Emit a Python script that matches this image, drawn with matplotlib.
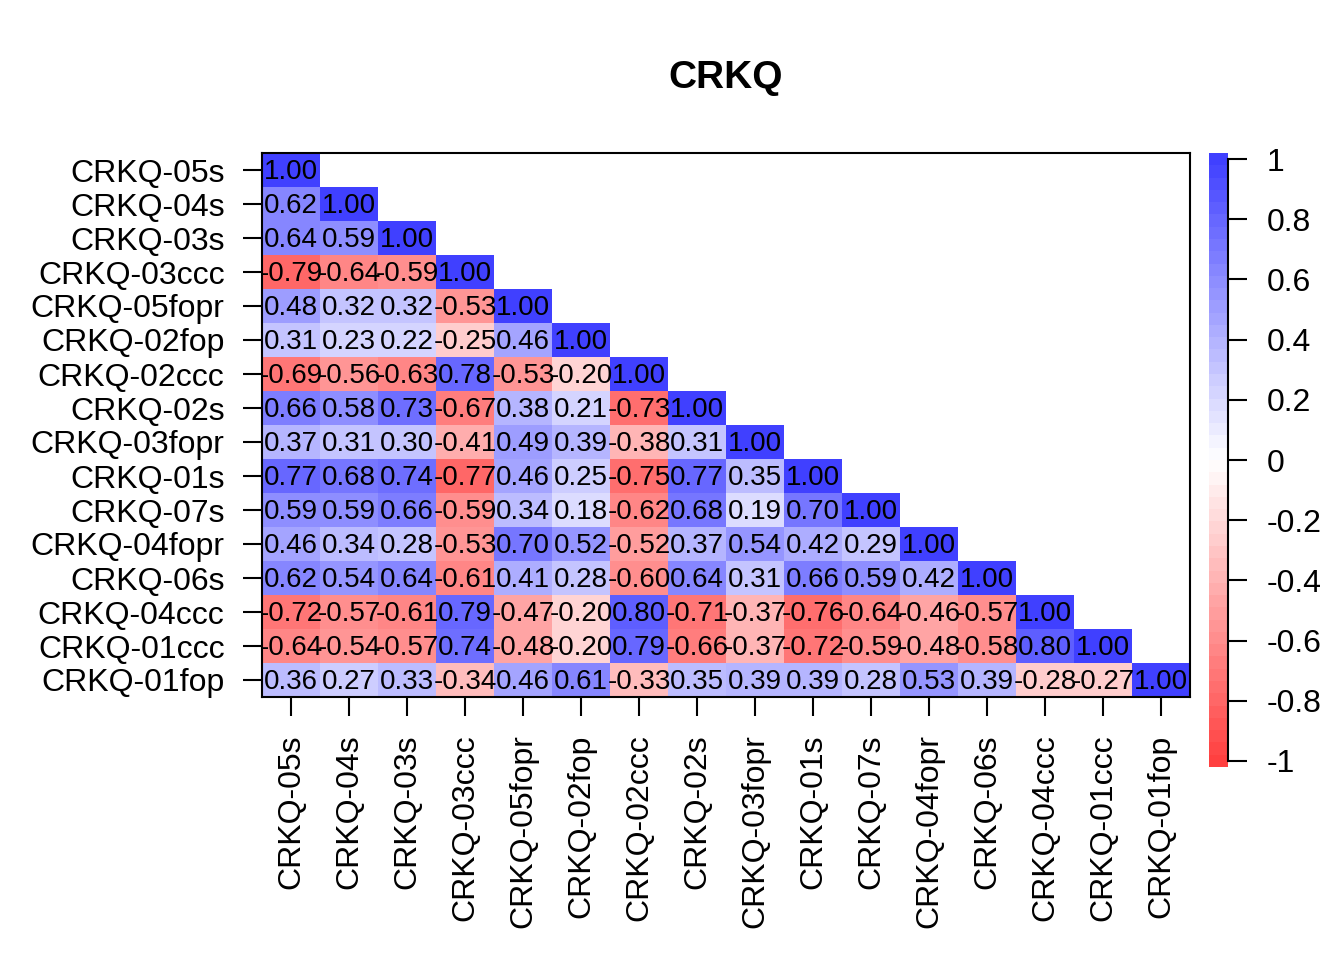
import numpy as np
import matplotlib
matplotlib.use("Agg")
import matplotlib.pyplot as plt
from matplotlib.colors import LinearSegmentedColormap, ListedColormap, BoundaryNorm

plt.rcParams['font.family'] = ['Liberation Sans', 'DejaVu Sans']

title = "CRKQ"
labels = ["CRKQ-05s", "CRKQ-04s", "CRKQ-03s", "CRKQ-03ccc", "CRKQ-05fopr",
          "CRKQ-02fop", "CRKQ-02ccc", "CRKQ-02s", "CRKQ-03fopr", "CRKQ-01s",
          "CRKQ-07s", "CRKQ-04fopr", "CRKQ-06s", "CRKQ-04ccc", "CRKQ-01ccc",
          "CRKQ-01fop"]

# lower triangle, row by row
lower = [
    [1.00],
    [0.62, 1.00],
    [0.64, 0.59, 1.00],
    [-0.79, -0.64, -0.59, 1.00],
    [0.48, 0.32, 0.32, -0.53, 1.00],
    [0.31, 0.23, 0.22, -0.25, 0.46, 1.00],
    [-0.69, -0.56, -0.63, 0.78, -0.53, -0.20, 1.00],
    [0.66, 0.58, 0.73, -0.67, 0.38, 0.21, -0.73, 1.00],
    [0.37, 0.31, 0.30, -0.41, 0.49, 0.39, -0.38, 0.31, 1.00],
    [0.77, 0.68, 0.74, -0.77, 0.46, 0.25, -0.75, 0.77, 0.35, 1.00],
    [0.59, 0.59, 0.66, -0.59, 0.34, 0.18, -0.62, 0.68, 0.19, 0.70, 1.00],
    [0.46, 0.34, 0.28, -0.53, 0.70, 0.52, -0.52, 0.37, 0.54, 0.42, 0.29, 1.00],
    [0.62, 0.54, 0.64, -0.61, 0.41, 0.28, -0.60, 0.64, 0.31, 0.66, 0.59, 0.42, 1.00],
    [-0.72, -0.57, -0.61, 0.79, -0.47, -0.20, 0.80, -0.71, -0.37, -0.76, -0.64, -0.46, -0.57, 1.00],
    [-0.64, -0.54, -0.57, 0.74, -0.48, -0.20, 0.79, -0.66, -0.37, -0.72, -0.59, -0.48, -0.58, 0.80, 1.00],
    [0.36, 0.27, 0.33, -0.34, 0.46, 0.61, -0.33, 0.35, 0.39, 0.39, 0.28, 0.53, 0.39, -0.28, -0.27, 1.00],
]
cbar_ticks = [-1, -0.8, -0.6, -0.4, -0.2, 0, 0.2, 0.4, 0.6, 0.8, 1]

n = len(labels)
M = np.full((n, n), np.nan)
for i, row in enumerate(lower):
    M[i, :len(row)] = row

# red - white - blue ramp, 50 steps, drawn at 75% opacity on white
base = LinearSegmentedColormap.from_list("rwb", [(1, 0.25, 0.25), (1, 1, 1), (0.25, 0.25, 1)])
ncol = 50
cols = base(np.linspace(0, 1, ncol))
cmap = ListedColormap(cols)
norm = BoundaryNorm(np.linspace(-1, 1, ncol + 1), ncol)

W, H = 1344, 960
fig = plt.figure(figsize=(W / 100, H / 100), dpi=100)
ax = fig.add_axes([262 / W, 1 - 697 / H, 928 / W, 544 / H])

ax.pcolormesh(np.arange(n + 1), np.arange(n + 1), np.ma.masked_invalid(M),
              cmap=cmap, norm=norm)
ax.set_xlim(0, n)
ax.set_ylim(n, 0)
for i in range(n):
    for j in range(i + 1):
        ax.text(j + 0.5, i + 0.56, f"{M[i, j]:.2f}", ha="center", va="center",
                fontsize=20)

ax.set_xticks(np.arange(n) + 0.5)
ax.set_yticks(np.arange(n) + 0.5)
ax.set_xticklabels(labels, rotation=90, fontsize=23)
ax.set_yticklabels(labels, fontsize=23)
ax.tick_params(length=14, width=1.5, pad=13)
for s in ax.spines.values():
    s.set_linewidth(1.5)

fig.text(726 / W, 1 - 78 / H, title, ha="center", va="center",
         fontsize=28, fontweight="bold")

# colour legend
cax = fig.add_axes([1209 / W, 1 - 767 / H, 19 / W, 614 / H])
h = 1 / (ncol - 1)
edges = np.linspace(-1 - h, 1 + h, ncol + 1)
cax.pcolormesh([0, 1], edges, np.arange(ncol).reshape(ncol, 1),
               cmap=cmap, vmin=-0.5, vmax=ncol - 0.5)
cax.set_xlim(0, 1)
cax.set_ylim(-1 - h, 1 + h)
for k in ["top", "bottom", "left"]:
    cax.spines[k].set_visible(False)
cax.spines["right"].set_bounds(-1, 1)
cax.spines["right"].set_linewidth(1.5)
cax.set_xticks([])
cax.yaxis.tick_right()
cax.set_yticks(cbar_ticks)
cax.set_yticklabels([f"{t:g}" for t in cbar_ticks], fontsize=23)
cax.tick_params(axis="y", length=14, width=1.5, pad=14)

fig.savefig("out.png", dpi=100)
